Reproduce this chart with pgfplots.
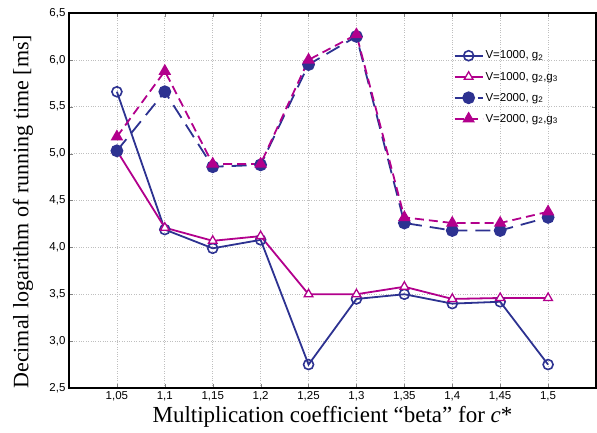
\documentclass[border=0pt]{standalone}
\usepackage{fontspec}
\setmainfont{Liberation Sans}
\newfontfamily\serif{Liberation Serif}
\usepackage{pgfplots}
\pgfplotsset{compat=1.18}

\definecolor{cblue}{RGB}{45,50,145}
\definecolor{cmag}{RGB}{178,0,140}

\begin{document}
\begin{tikzpicture}
\begin{axis}[
    at={(0,0)}, anchor=south west,
    scale only axis, width=527pt, height=375pt,
    xmin=1.0, xmax=1.55, ymin=2.5, ymax=6.5,
    xtick={1.05,1.1,1.15,1.2,1.25,1.3,1.35,1.4,1.45,1.5},
    ytick={2.5,3,3.5,4,4.5,5,5.5,6,6.5},
    xticklabels={{1,05},{1,1},{1,15},{1,2},{1,25},{1,3},{1,35},{1,4},{1,45},{1,5}},
    y tick label style={/pgf/number format/.cd, use comma, fixed, fixed zerofill, precision=1, assume math mode=true},
    tick label style={font=\fontsize{11.5}{13}\selectfont},
    tick align=inside, tick pos=both, major tick length=4pt,
    grid=major, major grid style={dotted, black!25, line width=0.7pt},
    axis line style={line width=2pt},
    xlabel={\serif\fontsize{23}{25}\selectfont Multiplication coefficient “beta” for \textit{c}*},
    ylabel={\serif\fontsize{22}{24}\selectfont Decimal logarithm of running time [ms]},
    xlabel style={at={(0.5,0)}, anchor=center, yshift=-29pt},
    ylabel style={at={(0,0.47)}, anchor=center, yshift=46pt},
    legend style={at={(0.724,0.91)}, anchor=north west, draw=none, fill=none,
        font=\fontsize{11.5}{13}\selectfont, row sep=7.5pt},
    legend cell align=left,
    legend image code/.code={\draw[mark repeat=2, mark phase=2, #1] plot coordinates {(0pt,0pt)(14pt,0pt)(28pt,0pt)};},
]
\addplot[cblue, line width=1.8pt, mark=o, mark size=5pt, mark options={solid, fill=white, line width=1.6pt}]
  coordinates {(1.05,5.66)(1.1,4.19)(1.15,3.99)(1.2,4.08)(1.25,2.75)(1.3,3.45)(1.35,3.50)(1.4,3.40)(1.45,3.42)(1.5,2.75)};
\addplot[cmag, line width=1.8pt, mark=triangle*, mark size=5pt, mark options={solid, fill=white, line width=1.3pt}]
  coordinates {(1.05,5.03)(1.1,4.21)(1.15,4.07)(1.2,4.12)(1.25,3.50)(1.3,3.50)(1.35,3.58)(1.4,3.45)(1.45,3.46)(1.5,3.46)};
\addplot[cblue, line width=1.8pt, dash pattern=on 15pt off 8pt, mark=*, mark size=5.5pt, mark options={solid, fill=cblue}]
  coordinates {(1.05,5.03)(1.1,5.66)(1.15,4.86)(1.2,4.88)(1.25,5.95)(1.3,6.25)(1.35,4.26)(1.4,4.18)(1.45,4.18)(1.5,4.32)};
\addplot[cmag, line width=1.8pt, dash pattern=on 9pt off 5pt, mark=triangle*, mark size=5.5pt, mark options={solid, fill=cmag}]
  coordinates {(1.05,5.18)(1.1,5.88)(1.15,4.89)(1.2,4.89)(1.25,6.00)(1.3,6.27)(1.35,4.32)(1.4,4.26)(1.45,4.26)(1.5,4.38)};
\legend{{V=1000, g\textsubscript{2}}, {V=1000, g\textsubscript{2},g\textsubscript{3}}, {V=2000, g\textsubscript{2}}, {V=2000, g\textsubscript{2},g\textsubscript{3}}}
\end{axis}
\pgfresetboundingbox
\path (-69pt,-44pt) rectangle (528pt,388pt);
\end{tikzpicture}
\end{document}
